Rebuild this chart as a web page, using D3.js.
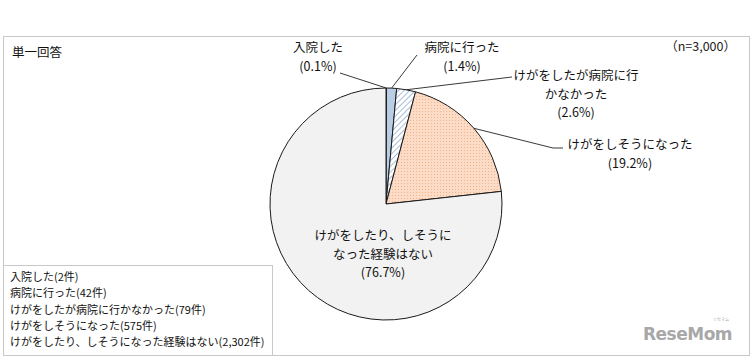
<!DOCTYPE html>
<html>
<head>
<meta charset="utf-8">
<script src="https://cdn.jsdelivr.net/npm/d3@7"></script>
<style>
  body { margin: 0; background: #fff; }
  svg { display: block; }
</style>
</head>
<body>
<svg id="chart"></svg>
<script>
// data
const categories = ["入院した", "病院に行った", "けがをしたが病院に行かなかった", "けがをしそうになった", "けがをしたり、しそうになった経験はない"];
const counts = [2, 42, 79, 575, 2302];
const percentLabels = ["(0.1%)", "(1.4%)", "(2.6%)", "(19.2%)", "(76.7%)"];
const legendLines = ["入院した(2件)", "病院に行った(42件)", "けがをしたが病院に行かなかった(79件)", "けがをしそうになった(575件)", "けがをしたり、しそうになった経験はない(2,302件)"];
const sampleLabel = "（n=3,000）";
const questionLabel = "単一回答";

const width = 755, height = 362;
const font = "'Noto Sans CJK JP', 'Noto Sans', sans-serif";
const svg = d3.select("#chart").attr("width", width).attr("height", height)
  .style("font-family", font);

// patterns
const defs = svg.append("defs");
const hatch = defs.append("pattern").attr("id", "hatch")
  .attr("patternUnits", "userSpaceOnUse").attr("width", 4).attr("height", 4)
  .attr("patternTransform", "rotate(45)");
hatch.append("rect").attr("width", 4).attr("height", 4).attr("fill", "#fff");
hatch.append("line").attr("x1", 0).attr("y1", 0).attr("x2", 0).attr("y2", 4)
  .attr("stroke", "#6f93c4").attr("stroke-width", 1.2);

const dots = defs.append("pattern").attr("id", "dots")
  .attr("patternUnits", "userSpaceOnUse").attr("width", 3).attr("height", 3);
dots.append("rect").attr("width", 3).attr("height", 3).attr("fill", "#fcdcc6");
dots.append("rect").attr("width", 1).attr("height", 1).attr("fill", "#eeb48c");

const fills = ["#b9cde5", "#b9cde5", "url(#hatch)", "url(#dots)", "#f2f2f2"];

// outer frame
svg.append("rect").attr("x", 3.5).attr("y", 36.5).attr("width", 746).attr("height", 319)
  .attr("fill", "none").attr("stroke", "#c8c8c8");

svg.append("text").attr("x", 12).attr("y", 57).attr("font-size", 12.5)
  .attr("fill", "#111").text(questionLabel);
svg.append("text").attr("x", 736).attr("y", 51).attr("font-size", 12.5)
  .attr("text-anchor", "end").attr("fill", "#222").text(sampleLabel);

// pie
const cx = 386, cy = 204, r = 116;
const pie = d3.pie().sort(null).value(d => d)(counts);
const arc = d3.arc().innerRadius(0).outerRadius(r);
const g = svg.append("g").attr("transform", `translate(${cx},${cy})`);
g.selectAll("path").data(pie).join("path")
  .attr("d", arc)
  .attr("fill", (d, i) => fills[i])
  .attr("stroke", "#1a1a1a")
  .attr("stroke-width", 1);

// point on pie edge at a slice's mid angle
function edge(i) {
  const a = (pie[i].startAngle + pie[i].endAngle) / 2;
  return [cx + r * Math.sin(a), cy - r * Math.cos(a)];
}

// leader lines
const leaders = [
  [[340, 73], edge(0)],
  [[417, 55], edge(1)],
  [[512, 77], edge(2)],
  [[563, 148], [553, 148], edge(3)]
];
svg.append("g").selectAll("path").data(leaders).join("path")
  .attr("d", d => d3.line()(d))
  .attr("fill", "none").attr("stroke", "#222").attr("stroke-width", 0.9);

// labels
const labels = [
  { x: 318, y: 52, anchor: "middle", lines: [categories[0], percentLabels[0]] },
  { x: 462, y: 52, anchor: "middle", lines: [categories[1], percentLabels[1]] },
  { x: 576, y: 80, anchor: "middle", lines: ["けがをしたが病院に行", "かなかった", percentLabels[2]] },
  { x: 630, y: 149, anchor: "middle", lines: [categories[3], percentLabels[3]] },
  { x: 383, y: 240, anchor: "middle", lines: ["けがをしたり、しそうに", "なった経験はない", percentLabels[4]] }
];
const lg = svg.append("g").attr("font-size", 12.5).attr("fill", "#111");
labels.forEach(l => {
  const t = lg.append("text").attr("text-anchor", l.anchor);
  l.lines.forEach((s, k) => {
    t.append("tspan").attr("x", l.x).attr("y", l.y + k * 18.5).text(s);
  });
});

// legend box
svg.append("rect").attr("x", 3.5).attr("y", 265.5).attr("width", 269).attr("height", 90)
  .attr("fill", "#fff").attr("stroke", "#c8c8c8");
svg.append("g").attr("font-size", 11).attr("fill", "#111")
  .selectAll("text").data(legendLines).join("text")
  .attr("x", 10).attr("y", (d, i) => 281 + i * 16.3)
  .text(d => d);

// watermark
svg.append("text").attr("x", 643).attr("y", 340).attr("font-size", 17)
  .attr("font-weight", "bold").attr("fill", "#a8a8a8")
  .attr("font-family", "'DejaVu Sans', sans-serif").style("letter-spacing", "-0.5px")
  .text("ReseMom");
svg.append("text").attr("x", 721).attr("y", 321).attr("font-size", 4)
  .attr("fill", "#a8a8a8").attr("text-anchor", "middle").text("リセマム");
</script>
</body>
</html>
